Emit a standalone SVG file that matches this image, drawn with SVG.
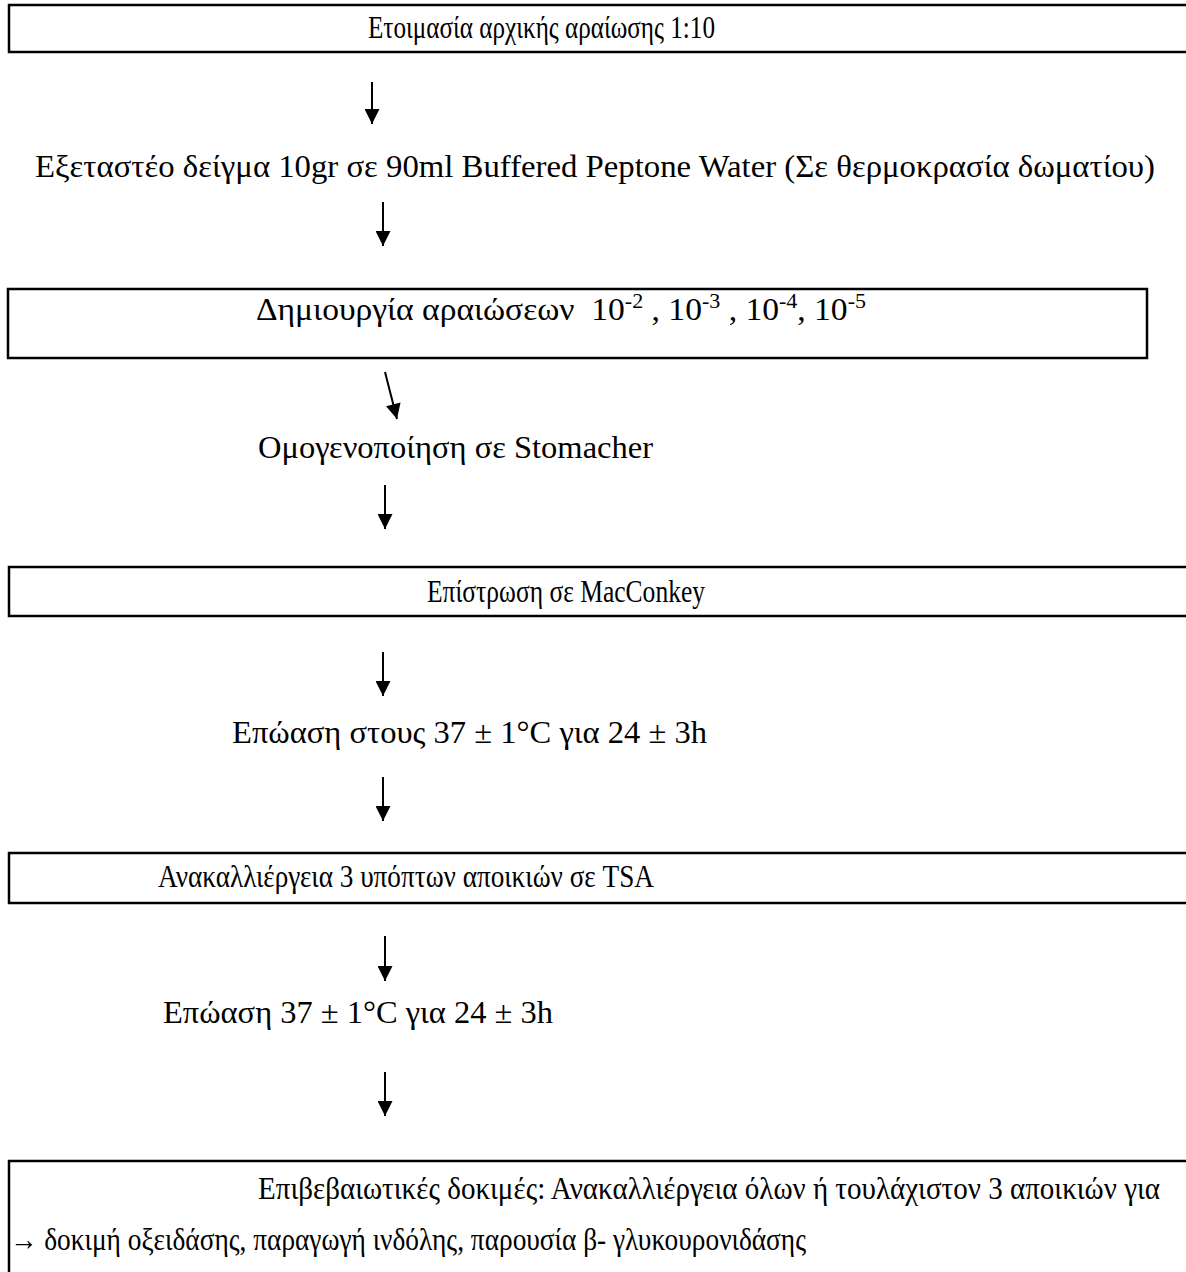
<svg xmlns="http://www.w3.org/2000/svg" width="1186" height="1272" viewBox="0 0 1186 1272">
<style>
.box{fill:#fff;stroke:#000;stroke-width:2.5}
.t{font-family:"Liberation Serif","Times New Roman",serif;font-size:32px;fill:#000}
.b{font-family:"Liberation Serif","Times New Roman",serif;font-size:32px;fill:#000}
.c{stroke:#000;stroke-width:2;fill:none}
.sup{font-size:21px}
</style>
<defs>
<marker id="ah" viewBox="0 0 10 10" refX="10" refY="5" markerWidth="8" markerHeight="7.5" markerUnits="strokeWidth" orient="auto">
<path d="M0,0 L10,5 L0,10 Z" fill="#000"/>
</marker>
</defs>
<rect width="1186" height="1272" fill="#fff"/>
<g id="n1"><rect class="box" x="9" y="5" width="1190" height="47"/><text class="b" x="368" y="38" textLength="347" lengthAdjust="spacingAndGlyphs">Ετοιμασία αρχικής αραίωσης 1:10</text></g>
<g id="n2"><text class="t" x="35" y="177" textLength="1120" lengthAdjust="spacingAndGlyphs">Εξεταστέο δείγμα 10gr σε 90ml Buffered Peptone Water (Σε θερμοκρασία δωματίου)</text></g>
<g id="n3"><rect class="box" x="8" y="289" width="1139" height="69"/><text class="t" x="256" y="320" xml:space="preserve" textLength="610" lengthAdjust="spacingAndGlyphs">Δημιουργία αραιώσεων  10<tspan class="sup" dy="-12">-2</tspan><tspan dy="12"> , 10</tspan><tspan class="sup" dy="-12">-3</tspan><tspan dy="12"> , 10</tspan><tspan class="sup" dy="-12">-4</tspan><tspan dy="12">, 10</tspan><tspan class="sup" dy="-12">-5</tspan></text></g>
<g id="n4"><text class="t" x="258" y="458" textLength="395" lengthAdjust="spacingAndGlyphs">Ομογενοποίηση σε Stomacher</text></g>
<g id="n5"><rect class="box" x="9" y="567" width="1190" height="49"/><text class="b" x="427" y="602" textLength="278" lengthAdjust="spacingAndGlyphs">Επίστρωση σε MacConkey</text></g>
<g id="n6"><text class="t" x="232" y="743" textLength="475" lengthAdjust="spacingAndGlyphs">Επώαση στους 37 ± 1°C για 24 ± 3h</text></g>
<g id="n7"><rect class="box" x="9" y="853" width="1190" height="50"/><text class="b" x="158" y="887" textLength="496" lengthAdjust="spacingAndGlyphs">Ανακαλλιέργεια 3 υπόπτων αποικιών σε TSA</text></g>
<g id="n8"><text class="t" x="163" y="1023" textLength="390" lengthAdjust="spacingAndGlyphs">Επώαση 37 ± 1°C για 24 ± 3h</text></g>
<g id="n9"><rect class="box" x="9" y="1161" width="1190" height="130"/><text class="b" x="258" y="1199" textLength="902" lengthAdjust="spacingAndGlyphs">Επιβεβαιωτικές δοκιμές: Ανακαλλιέργεια όλων ή τουλάχιστον 3 αποικιών για</text><text class="b" x="10" y="1250" textLength="796" lengthAdjust="spacingAndGlyphs">→ δοκιμή οξειδάσης, παραγωγή ινδόλης, παρουσία β- γλυκουρονιδάσης</text></g>
<g id="connectors">
<line class="c" x1="372" y1="82" x2="372" y2="124" marker-end="url(#ah)"/>
<line class="c" x1="383" y1="202" x2="383" y2="246" marker-end="url(#ah)"/>
<line class="c" x1="385" y1="372" x2="397" y2="419" marker-end="url(#ah)"/>
<line class="c" x1="385" y1="485" x2="385" y2="529" marker-end="url(#ah)"/>
<line class="c" x1="383" y1="652" x2="383" y2="696" marker-end="url(#ah)"/>
<line class="c" x1="383" y1="777" x2="383" y2="821" marker-end="url(#ah)"/>
<line class="c" x1="385" y1="936" x2="385" y2="981" marker-end="url(#ah)"/>
<line class="c" x1="385" y1="1072" x2="385" y2="1116" marker-end="url(#ah)"/>
</g>
</svg>
